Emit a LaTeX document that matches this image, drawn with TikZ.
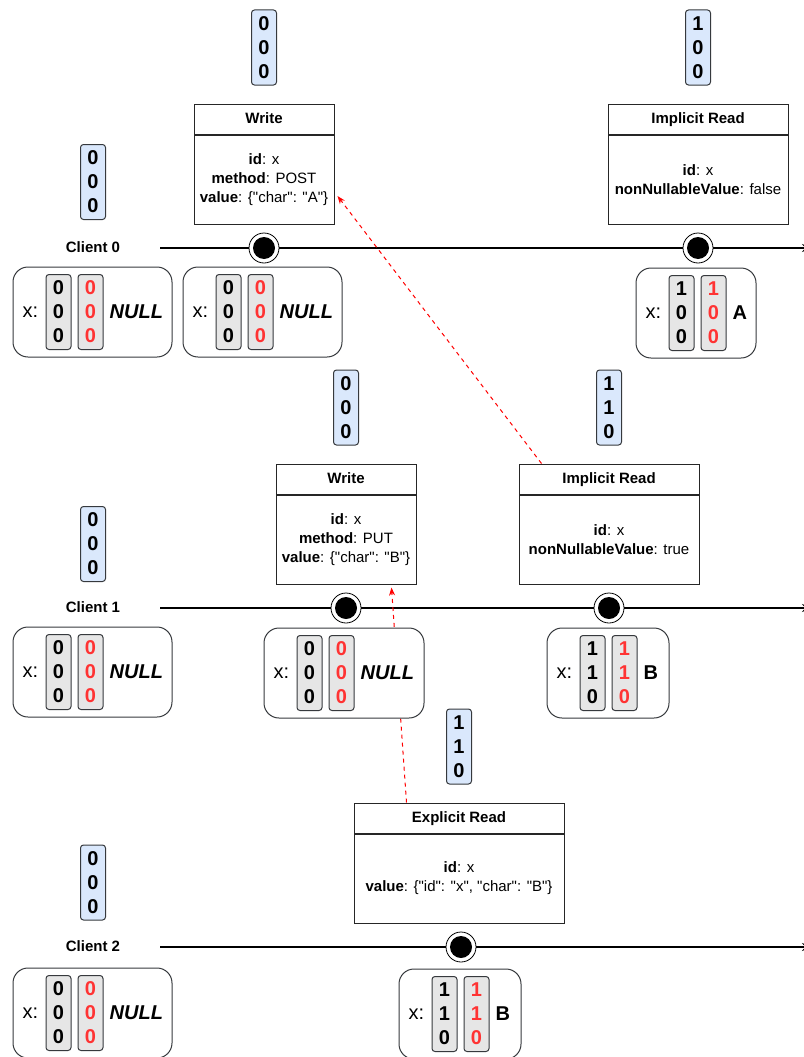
\documentclass[tikz,border=0pt]{standalone}
\usepackage{fontspec}
\setmainfont{Liberation Sans}[Ligatures=TeXOff]
\usetikzlibrary{arrows.meta, positioning}
\definecolor{bluvec}{HTML}{DAE8FC}
\definecolor{grigiovec}{HTML}{E6E6E6}
\definecolor{bordo}{HTML}{36393D}
\definecolor{rosso}{HTML}{FF3333}
\pgfdeclarelayer{sfondo}
\pgfsetlayers{sfondo,main}

% stato locale: nome, posizione, larghezza, bit, valore
\newcommand{\statonodo}[5]{%
  \node[scatola, minimum width=#3] (#1) at #2 {};
  \node[valore] (#1x) at ([xshift=18pt]#1.west) {x:};
  \node[vetgrigio] (#1g) at ([xshift=46pt]#1.west) {#4};
  \node[vetrosso] (#1r) at ([xshift=78pt]#1.west) {#4};
  \node[valore, anchor=west] (#1v) at ([xshift=97pt]#1.west) {#5};
}

\begin{document}
\begin{tikzpicture}[x=1pt, y=-1pt,
  font=\fontsize{15}{19}\selectfont,
  vettore/.style={draw=bordo, line width=1pt, rounded corners=3pt, minimum width=25pt,
                  minimum height=75pt, inner sep=0pt, align=center,
                  font=\fontsize{20}{24}\selectfont\bfseries},
  vetblu/.style={vettore, fill=bluvec},
  vetgrigio/.style={vettore, fill=grigiovec},
  vetrosso/.style={vettore, fill=grigiovec, text=rosso},
  scatola/.style={draw=bordo, line width=1pt, rounded corners=15pt, fill=white,
                  minimum height=90pt, inner sep=0pt},
  valore/.style={font=\fontsize{20}{24}\selectfont, inner sep=0pt},
  titolo/.style={draw=black!85, line width=1pt, fill=white, minimum height=30pt,
                 inner sep=0pt, text height=11pt, text depth=3pt,
                 font=\fontsize{15}{18}\selectfont\bfseries},
  corpo/.style={draw=black!85, line width=1pt, fill=white, minimum height=89pt,
                inner sep=0pt, align=center},
  evento/.style={circle, draw=black, line width=0.8pt, fill=white, minimum size=30pt,
                 inner sep=0pt,
                 path picture={\fill[black] (path picture bounding box.center) circle (11pt);}},
  cliente/.style={text height=11pt, text depth=3pt, font=\fontsize{15}{18}\selectfont\bfseries},
  linea/.style={draw=black, line width=1.5pt, -{Stealth[length=10pt,width=8pt]}},
  freccia/.style={draw=red, line width=1pt, dash pattern=on 4pt off 4pt,
                  -{Stealth[length=8pt,width=6pt]}}
]
\useasboundingbox (0,0) rectangle (803,1057);

% Client 0
\node[cliente] (cl0) at (93,248) {Client 0};
\node[vetblu] (vc0) at (93,182) {0\\0\\0};
\coordinate (t0a) at (160,248);
\coordinate (t0b) at (812,248);

\node[titolo, minimum width=140pt] (wr0) at (264,119) {Write};
\node[corpo, minimum width=140pt, below=0pt of wr0] (wr0b)
  {\textbf{id}: x\\\textbf{method}: POST\\\textbf{value}: \{"char": "A"\}};
\node[vetblu, above=18pt of wr0] (vwr0) {0\\0\\0};

\node[titolo, minimum width=180pt] (ir0) at (698,119) {Implicit Read};
\node[corpo, minimum width=180pt, below=0pt of ir0] (ir0b)
  {\textbf{id}: x\\\textbf{nonNullableValue}: false};
\node[vetblu, above=18pt of ir0] (vir0) {1\\0\\0};

\node[evento] (e00) at (264,248) {};
\node[evento] (e01) at (698,248) {};

\statonodo{s00}{(92.5,312)}{159pt}{0\\0\\0}{\textbf{\textit{NULL}}}
\statonodo{s01}{(262.5,312)}{159pt}{0\\0\\0}{\textbf{\textit{NULL}}}
\statonodo{s02}{(696,313)}{120pt}{1\\0\\0}{\textbf{A}}

% Client 1
\node[cliente] (cl1) at (93,608) {Client 1};
\node[vetblu] (vc1) at (93,544) {0\\0\\0};
\coordinate (t1a) at (160,608);
\coordinate (t1b) at (812,608);

\node[titolo, minimum width=140pt] (wr1) at (346,479) {Write};
\node[corpo, minimum width=140pt, below=0pt of wr1] (wr1b)
  {\textbf{id}: x\\\textbf{method}: PUT\\\textbf{value}: \{"char": "B"\}};
\node[vetblu, above=18pt of wr1] (vwr1) {0\\0\\0};

\node[titolo, minimum width=180pt] (ir1) at (609,479) {Implicit Read};
\node[corpo, minimum width=180pt, below=0pt of ir1] (ir1b)
  {\textbf{id}: x\\\textbf{nonNullableValue}: true};
\node[vetblu, above=18pt of ir1] (vir1) {1\\1\\0};

\node[evento] (e10) at (346,608) {};
\node[evento] (e11) at (609,608) {};

\statonodo{s10}{(92.5,672)}{159pt}{0\\0\\0}{\textbf{\textit{NULL}}}
\statonodo{s11}{(344,673)}{160pt}{0\\0\\0}{\textbf{\textit{NULL}}}
\statonodo{s12}{(608,673)}{122pt}{1\\1\\0}{\textbf{B}}

% Client 2
\node[cliente] (cl2) at (93,947) {Client 2};
\node[vetblu] (vc2) at (93,882.5) {0\\0\\0};
\coordinate (t2a) at (160,947);
\coordinate (t2b) at (812,947);

\node[titolo, minimum width=210pt] (er2) at (459,818) {Explicit Read};
\node[corpo, minimum width=210pt, below=0pt of er2] (er2b)
  {\textbf{id}: x\\\textbf{value}: \{"id": "x", "char": "B"\}};
\node[vetblu, above=18pt of er2] (ver2) {1\\1\\0};

\node[evento] (e20) at (461,947) {};

\statonodo{s20}{(92.5,1013)}{159pt}{0\\0\\0}{\textbf{\textit{NULL}}}
\statonodo{s21}{(460,1014)}{122pt}{1\\1\\0}{\textbf{B}}

\begin{pgfonlayer}{sfondo}
  \draw[linea] (t0a) -- (t0b);
  \draw[linea] (t1a) -- (t1b);
  \draw[linea] (t2a) -- (t2b);
  \draw[freccia] ([xshift=23pt]ir1.north west) -- ([xshift=3pt,yshift=-16.5pt]wr0b.east);
  \draw[freccia] ([xshift=53pt]er2.north west) -- ([xshift=116pt,yshift=-3pt]wr1b.south west);
\end{pgfonlayer}

\end{tikzpicture}
\end{document}
